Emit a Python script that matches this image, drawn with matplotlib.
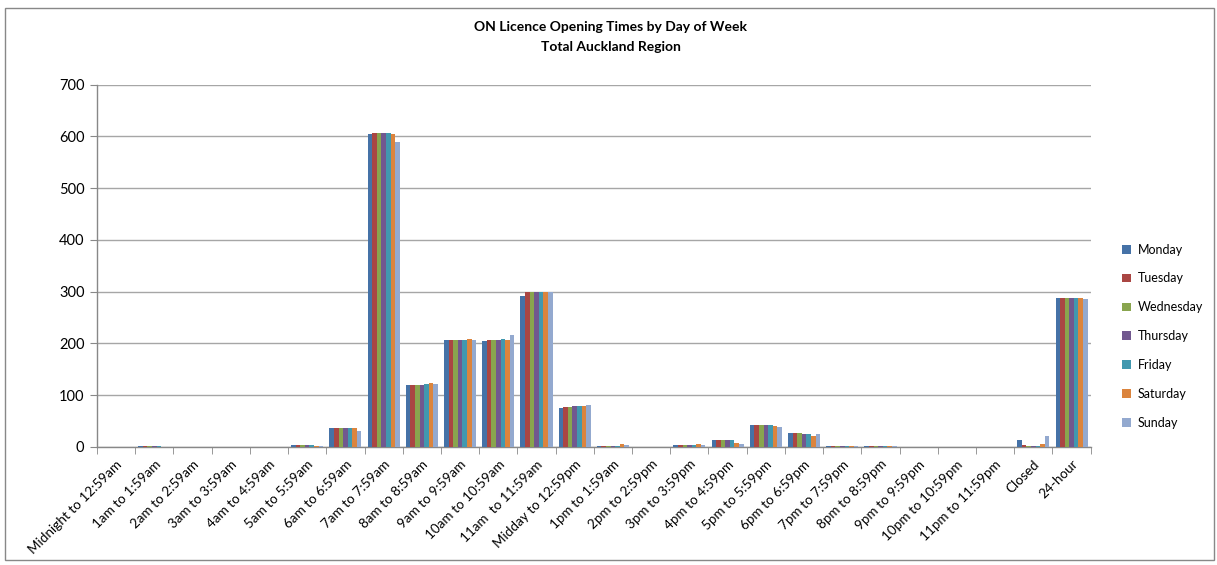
import matplotlib
matplotlib.use("Agg")
import matplotlib.pyplot as plt
from matplotlib.patches import Rectangle
import numpy as np

categories = [
    "Midnight to 12:59am", "1am to 1:59am", "2am to 2:59am", "3am to 3:59am",
    "4am to 4:59am", "5am to 5:59am", "6am to 6:59am", "7am to 7:59am",
    "8am to 8:59am", "9am to 9:59am", "10am to 10:59am", "11am  to 11:59am",
    "Midday to 12:59pm", "1pm to 1:59am", "2pm to 2:59pm", "3pm to 3:59pm",
    "4pm to 4:59pm", "5pm to 5:59pm", "6pm to 6:59pm", "7pm to 7:59pm",
    "8pm to 8:59pm", "9pm to 9:59pm", "10pm to 10:59pm", "11pm to 11:59pm",
    "Closed", "24-hour",
]

days = ["Monday", "Tuesday", "Wednesday", "Thursday", "Friday", "Saturday", "Sunday"]

monday    = [0, 1, 0, 0, 0, 4, 37, 605, 120, 207, 205, 292, 75, 1, 0, 4, 14, 43, 27, 1, 1, 0, 0, 0, 14, 288]
tuesday   = [0, 1, 0, 0, 0, 4, 37, 607, 120, 207, 207, 300, 77, 1, 0, 4, 14, 43, 27, 1, 1, 0, 0, 0, 4, 288]
wednesday = [0, 1, 0, 0, 0, 4, 37, 607, 120, 207, 207, 300, 77, 1, 0, 4, 14, 43, 27, 1, 1, 0, 0, 0, 1, 288]
thursday  = [0, 1, 0, 0, 0, 4, 37, 607, 120, 207, 207, 300, 79, 1, 0, 4, 14, 43, 25, 1, 1, 0, 0, 0, 1, 288]
friday    = [0, 1, 0, 0, 0, 4, 37, 607, 122, 207, 209, 300, 79, 1, 0, 4, 14, 43, 25, 1, 1, 0, 0, 0, 1, 288]
saturday  = [0, 0, 0, 0, 0, 1, 37, 605, 124, 209, 207, 300, 79, 6, 0, 6, 8, 41, 21, 1, 1, 0, 0, 0, 6, 288]
sunday    = [0, 0, 0, 0, 0, 1, 31, 590, 122, 207, 217, 300, 81, 3, 0, 4, 5, 39, 25, 1, 1, 0, 0, 0, 21, 286]

series = [monday, tuesday, wednesday, thursday, friday, saturday, sunday]
colors = ["#4572A7", "#AA4643", "#89A54E", "#71588F", "#4198AF", "#DB843D", "#93A9CF"]

plt.rcParams["font.family"] = ["Lato", "DejaVu Sans"]

fig = plt.figure(figsize=(12.17, 5.65), dpi=100)
ax = fig.add_axes([0.0797, 0.209, 0.8165, 0.641])

n = len(categories)
x = np.arange(n)
group_w = 0.84
bar_w = group_w / len(series)
for i, (vals, name, c) in enumerate(zip(series, days, colors)):
    offs = -group_w / 2 + bar_w * (i + 0.5)
    ax.bar(x + offs, vals, width=bar_w, color=c, label=name, linewidth=0, zorder=3)

ax.set_xlim(-0.5, n - 0.5)
ax.set_ylim(0, 700)
ax.set_yticks(range(0, 701, 100))
ax.tick_params(axis="y", labelsize=10.5, length=5, color="#888888", direction="out", pad=4)
ax.grid(axis="y", color="#A6A6A6", linewidth=1, zorder=0)

ax.set_xticks(x)
ax.set_xticklabels(categories, rotation=45, ha="right", rotation_mode="anchor", fontsize=9.7)
ax.tick_params(axis="x", length=0, pad=8)
ax.set_xticks(np.arange(-0.5, n, 1.0), minor=True)
ax.tick_params(axis="x", which="minor", length=5, color="#888888")

for s in ["top", "right"]:
    ax.spines[s].set_visible(False)
for s in ["left", "bottom"]:
    ax.spines[s].set_color("#888888")
    ax.spines[s].set_linewidth(1)

fig.text(0.502, 0.952, "ON Licence Opening Times by Day of Week", ha="center", va="center",
         fontsize=10, fontweight="bold")
fig.text(0.502, 0.917, "Total Auckland Region", ha="center", va="center",
         fontsize=10, fontweight="bold")

leg = ax.legend(loc="center left", bbox_to_anchor=(0.9125, 0.405), bbox_transform=fig.transFigure,
                frameon=False, fontsize=9, handlelength=0.7, handleheight=0.7,
                labelspacing=1.35, handletextpad=0.6)

fig.patches.append(Rectangle((5 / 1217, 1 - 560 / 565), 1209 / 1217, 552 / 565,
                             transform=fig.transFigure, fill=False,
                             edgecolor="#888888", linewidth=1))

fig.savefig("out.png", dpi=100)
